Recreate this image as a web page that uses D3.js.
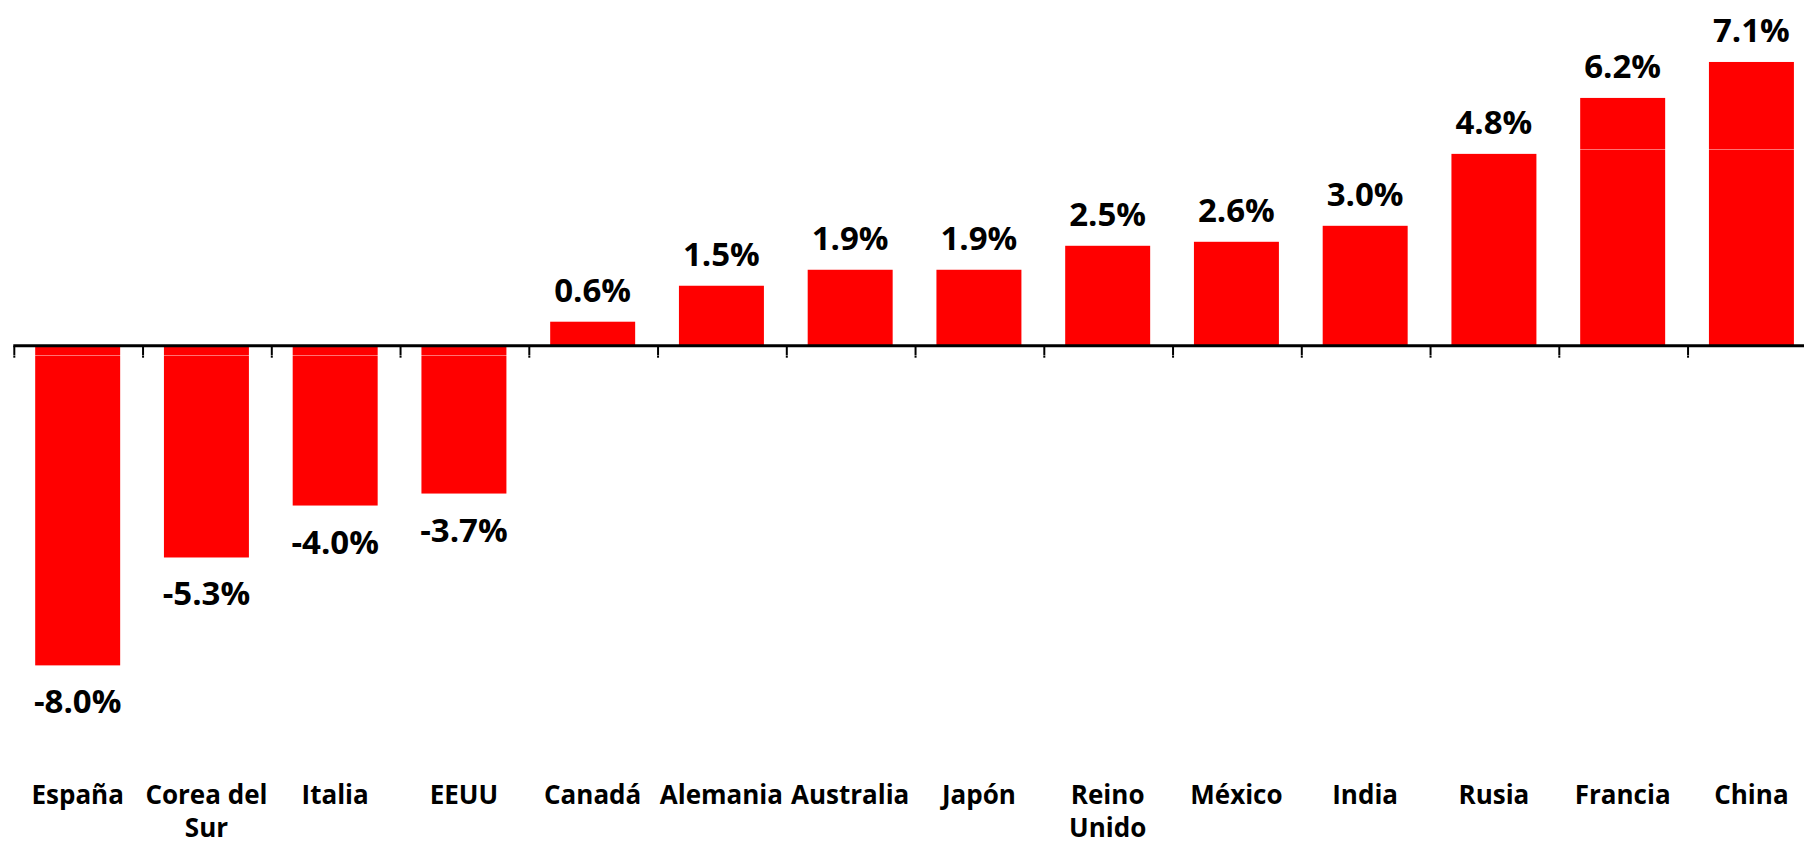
<!DOCTYPE html>
<html lang="es">
<head>
  <meta charset="utf-8">
  <title>Crecimiento por país</title>
  <script src="https://cdn.jsdelivr.net/npm/d3@7/dist/d3.min.js"></script>
  <style>
    html, body { margin: 0; padding: 0; background: #fff; overflow: hidden; }
    svg { display: block; }
  </style>
</head>
<body>
  <div id="chart"></div>

  <script>
    // ── data ──
    const countries = ['España', 'Corea del Sur', 'Italia', 'EEUU', 'Canadá', 'Alemania', 'Australia',
                       'Japón', 'Reino Unido', 'México', 'India', 'Rusia', 'Francia', 'China'];
    const growth    = [-8.0, -5.3, -4.0, -3.7, 0.6, 1.5, 1.9, 1.9, 2.5, 2.6, 3.0, 4.8, 6.2, 7.1];
    const yDomain   = [-10, 8];
    // faint light seams that cross the bars in the original
    const seams     = [4.92, -0.23];

    const W = 1804, H = 845;
    const font = "'Open Sans', 'DejaVu Sans', sans-serif";

    const svg = d3.select('#chart').append('svg')
      .attr('width', W).attr('height', H)
      .attr('font-family', font);

    const x = d3.scaleBand()
      .domain(countries)
      .range([13.3, 1815.8])
      .paddingInner(0.34)
      .paddingOuter(0.17);

    const y = d3.scaleLinear()
      .domain(yDomain)
      .range([745.3, 26.0]);

    const step = x.step();
    const edge = d => x(d) - step * 0.17;   // left boundary of a category slot

    // bars
    svg.append('g')
      .selectAll('rect')
      .data(countries)
      .join('rect')
        .attr('x', d => x(d))
        .attr('width', x.bandwidth())
        .attr('y', (d, i) => y(Math.max(0, growth[i])))
        .attr('height', (d, i) => Math.abs(y(growth[i]) - y(0)))
        .attr('fill', '#ff0000');

    // axis line + ticks at category boundaries
    const axis = svg.append('g');
    axis.append('line')
      .attr('x1', edge(countries[0])).attr('x2', W)
      .attr('y1', y(0)).attr('y2', y(0))
      .attr('stroke', '#000').attr('stroke-width', 3);

    axis.selectAll('line.tick')
      .data(countries)
      .join('line')
        .attr('class', 'tick')
        .attr('x1', d => edge(d) + 1).attr('x2', d => edge(d) + 1)
        .attr('y1', y(0)).attr('y2', y(0) + 12)
        .attr('stroke', '#000').attr('stroke-width', 2);

    // seams
    svg.append('g')
      .selectAll('line')
      .data(seams)
      .join('line')
        .attr('x1', 0).attr('x2', W)
        .attr('y1', d => Math.round(y(d)) + 0.5).attr('y2', d => Math.round(y(d)) + 0.5)
        .attr('stroke', '#fff').attr('stroke-opacity', 0.45).attr('stroke-width', 1);

    // value labels
    svg.append('g')
      .selectAll('text')
      .data(countries)
      .join('text')
        .attr('x', d => x(d) + x.bandwidth() / 2)
        .attr('y', (d, i) => growth[i] >= 0 ? y(growth[i]) - 20 : y(growth[i]) + 48)
        .attr('text-anchor', 'middle')
        .attr('font-size', 33)
        .attr('font-weight', 700)
        .attr('fill', '#000')
        .text((d, i) => growth[i].toFixed(1) + '%');

    // category labels, wrapped to the slot width
    const cat = svg.append('g')
      .selectAll('text')
      .data(countries)
      .join('text')
        .attr('x', d => x(d) + x.bandwidth() / 2)
        .attr('y', 804)
        .attr('text-anchor', 'middle')
        .attr('font-size', 26)
        .attr('font-weight', 700)
        .attr('fill', '#000');

    cat.each(function (d) {
      const t = d3.select(this);
      const words = d.split(' ');
      const cx = +t.attr('x');
      let line = [];
      let tspan = t.append('tspan').attr('x', cx).attr('dy', 0);
      words.forEach(w => {
        line.push(w);
        tspan.text(line.join(' '));
        if (tspan.node().getComputedTextLength() > step - 4 && line.length > 1) {
          line.pop();
          tspan.text(line.join(' '));
          line = [w];
          tspan = t.append('tspan').attr('x', cx).attr('dy', 33).text(w);
        }
      });
    });
  </script>
</body>
</html>
